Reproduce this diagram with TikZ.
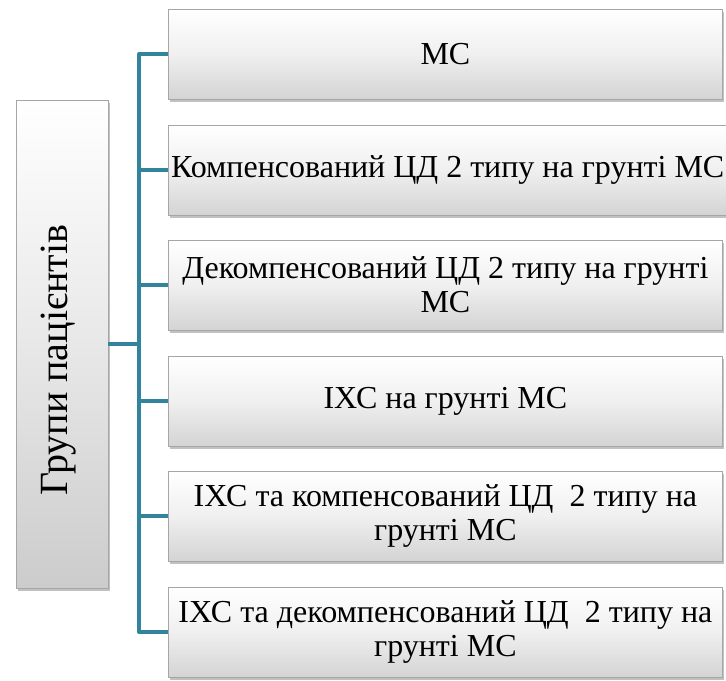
\documentclass[tikz,border=0pt]{standalone}
\usepackage{fontspec}
\setmainfont{Liberation Serif}
\usetikzlibrary{shadows,shadings}
\definecolor{linkteal}{HTML}{31849B}
\definecolor{boxedge}{HTML}{A6A6A6}
\tikzset{
  bevelbox/.style={
    draw=boxedge, line width=0.6pt,
    top color=white, bottom color=black!17, middle color=black!6,
    drop shadow={shadow xshift=1.2pt, shadow yshift=-2.2pt, opacity=0.35, fill=black!70},
    inner sep=2pt, align=center,
    font=\fontsize{24}{25.5}\selectfont
  },
  groupbox/.style={bevelbox, minimum width=415.5pt, minimum height=67.5pt, anchor=west},
  rootbox/.style={bevelbox, minimum width=69pt, minimum height=366pt,
    top color=white, bottom color=black!20, middle color=black!9},
  link/.style={draw=linkteal, line width=3pt, line join=round, line cap=butt}
}
\begin{document}
\begin{tikzpicture}[x=0.75pt,y=-0.75pt]
  \useasboundingbox (0,0) rectangle (726,681);

  % root box with rotated title
  \node[rootbox] (root) at (62,344) {};
  \node[rotate=90, font=\fontsize{30}{32}\selectfont, inner sep=0pt] (roottxt) at (59,360) {Групи пацієнтів};

  % patient groups
  \node[groupbox] (g1) at (168,54)  {МС};
  \node[groupbox] (g2) at (168,170) {Компенсований ЦД 2 типу на грунті МС};
  \node[groupbox] (g3) at (168,285) {Декомпенсований ЦД 2 типу на грунті\\МС};
  \node[groupbox] (g4) at (168,401) {ІХС на грунті МС};
  \node[groupbox] (g5) at (168,516) {ІХС та компенсований ЦД\ \ 2 типу на\\грунті МС};
  \node[groupbox] (g6) at (168,632) {ІХС та декомпенсований ЦД\ \ 2 типу на\\грунті МС};

  % bracket connectors
  \coordinate (bus) at (139,344);
  \draw[link] (root.east) -- (bus);
  \draw[link] (g1.west) -| (bus |- g6.west) -- (g6.west);
  \foreach \g in {g2,g3,g4,g5}
    \draw[link] (bus |- \g.west) -- (\g.west);
\end{tikzpicture}
\end{document}
